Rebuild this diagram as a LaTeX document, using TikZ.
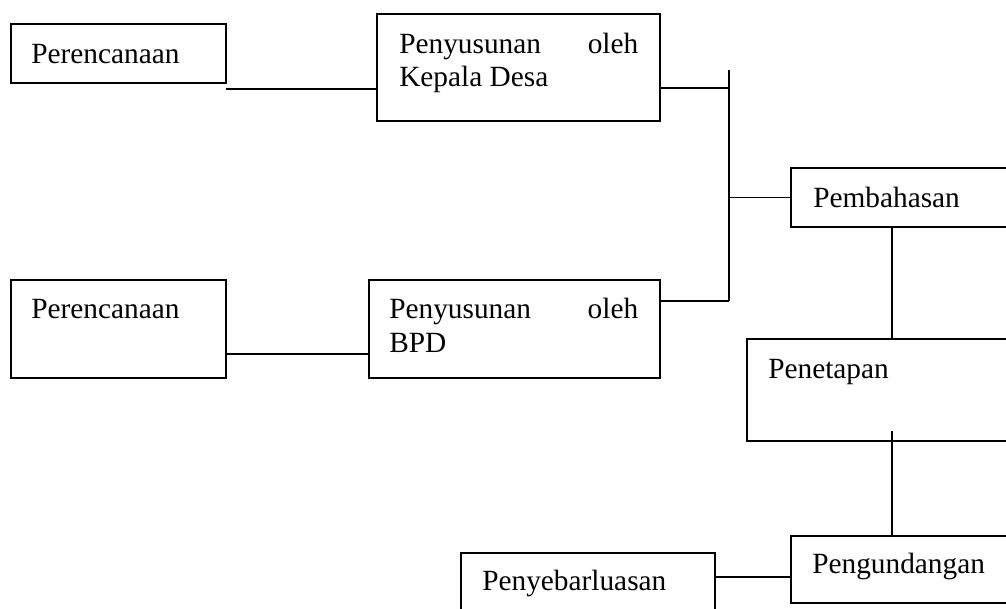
\documentclass[tikz,border=0pt]{standalone}
\usepackage{fontspec}
\setmainfont{Liberation Serif}
\usetikzlibrary{fit}
\begin{document}
\begin{tikzpicture}[x=0.75pt,y=-0.75pt,
  box/.style={draw, line width=1.4pt, inner sep=0pt},
  txt/.style={anchor=base west, inner sep=0pt, font=\fontsize{22}{25}\selectfont},
  conn/.style={line width=1.4pt}]
\clip (0,0) rectangle (1006,608);
\useasboundingbox (0,0) rectangle (1006,608);
% boxes
\node[box, fit={(11,24) (226,83)}] (p1) {};
\node[box, fit={(377,14) (660,121)}] (kd) {};
\node[box, fit={(791,168) (1030,227)}] (pb) {};
\node[box, fit={(11,280) (226,378)}] (p2) {};
\node[box, fit={(369,280) (660,378)}] (bpd) {};
\node[box, fit={(747,339) (1030,441)}] (pn) {};
\node[box, fit={(461,553) (715,650)}] (py) {};
\node[box, fit={(791,536) (1030,603)}] (pg) {};
% texts
\node[txt] (t1) at (31,63) {Perencanaan};
\node[txt] (t2a) at (399,53) {\makebox[179.25pt][s]{Penyusunan oleh}};
\node[txt] (t2b) at (399,86) {Kepala Desa};
\node[txt] (t3) at (813,207) {Pembahasan};
\node[txt] (t4) at (31,318) {Perencanaan};
\node[txt] (t5a) at (389,318) {\makebox[186.75pt][s]{Penyusunan oleh}};
\node[txt] (t5b) at (389,352) {BPD};
\node[txt] (t6) at (768,378) {Penetapan};
\node[txt] (t7) at (482,590) {Penyebarluasan};
\node[txt] (t8) at (812,573) {Pengundangan};
% junction coordinates
\coordinate (p1end) at (226,89);
\coordinate (bt) at (729,70);
\coordinate (bb) at (729,301);
\coordinate (vx) at (892,0);
\coordinate (pnt) at (892,431);
% connectors
\draw[conn] (p1end) -- (p1end -| kd.west);
\draw[conn] (kd.east |- 0,88) -- (bt |- 0,88);
\draw[conn] (bt) -- (bb);
\draw[conn] (bpd.east |- bb) -- (bb);
\draw[conn] (bt |- pb.west) -- (pb.west);
\draw[conn] (p2.east |- 0,354) -- (bpd.west |- 0,354);
\draw[conn] (pb.south -| vx) -- (pn.north -| vx);
\draw[conn] (pnt) -- (pg.north -| vx);
\draw[conn] (py.east |- 0,577) -- (pg.west |- 0,577);
\end{tikzpicture}
\end{document}
